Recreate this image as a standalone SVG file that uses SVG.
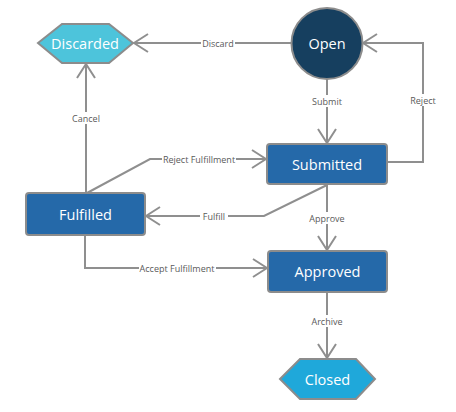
<svg xmlns="http://www.w3.org/2000/svg" width="456" height="412" viewBox="0 0 456 412">
<defs>
<marker id="arr" viewBox="0 0 16 20" refX="15" refY="10" markerWidth="16" markerHeight="20" markerUnits="userSpaceOnUse" orient="auto">
<path d="M1,1 L15,10 L1,19" fill="none" stroke="#8f8f8f" stroke-width="2"/>
</marker>
<style>
.e{fill:none;stroke:#8f8f8f;stroke-width:2}
.lb{fill:#fff}
.lt{font-family:"Open Sans","Noto Sans",sans-serif;font-size:9px;fill:#5a5a5a;text-anchor:middle;dominant-baseline:central}
.nt{font-family:"Open Sans","Noto Sans",sans-serif;font-size:14.5px;fill:#fff;text-anchor:middle;dominant-baseline:central}
.ns{stroke:#8c8c8c;stroke-width:2}
.blue{fill:#2569a9}
</style>
</defs>
<rect width="456" height="412" fill="#fff"/>
<g id="connectors">
<path class="e" d="M291,43 L134,43" marker-end="url(#arr)"/>
<path class="e" d="M327,79 L327,143" marker-end="url(#arr)"/>
<path class="e" d="M387,162 L423,162 L423,43 L363,43" marker-end="url(#arr)"/>
<path class="e" d="M86,193 L86,64" marker-end="url(#arr)"/>
<path class="e" d="M87,193 L150,159 L266,159" marker-end="url(#arr)"/>
<path class="e" d="M327,185 L264,216 L146,216" marker-end="url(#arr)"/>
<path class="e" d="M327,185 L327,250" marker-end="url(#arr)"/>
<path class="e" d="M85,235 L85,268 L267,268" marker-end="url(#arr)"/>
<path class="e" d="M327,292 L327,358" marker-end="url(#arr)"/>
<rect class="lb" x="201" y="37" width="34" height="12"/><text class="lt" x="218" y="43">Discard</text>
<rect class="lb" x="311" y="95" width="32" height="12"/><text class="lt" x="327" y="101">Submit</text>
<rect class="lb" x="409" y="94" width="29" height="12"/><text class="lt" x="423" y="100">Reject</text>
<rect class="lb" x="71" y="112" width="31" height="12"/><text class="lt" x="86" y="118">Cancel</text>
<rect class="lb" x="162" y="153" width="74" height="12"/><text class="lt" x="199" y="159">Reject Fulfillment</text>
<rect class="lb" x="200" y="210" width="28" height="12"/><text class="lt" x="214" y="216">Fulfill</text>
<rect class="lb" x="308" y="212" width="38" height="12"/><text class="lt" x="327" y="218">Approve</text>
<rect class="lb" x="139" y="262" width="77" height="12"/><text class="lt" x="177" y="268">Accept Fulfillment</text>
<rect class="lb" x="309" y="315" width="36" height="12"/><text class="lt" x="327" y="321">Archive</text>
</g>
<g id="discarded">
<polygon class="ns" points="38,43 62,24 109,24 133,43 109,63 62,63" fill="#4dc4db"/>
<text class="nt" x="85" y="43">Discarded</text>
</g>
<g id="open">
<circle class="ns" cx="327" cy="43.5" r="35.5" fill="#163f5f"/>
<text class="nt" x="327" y="43.5">Open</text>
</g>
<g id="submitted">
<rect class="ns blue" x="267" y="144" width="120" height="40" rx="3"/>
<text class="nt" x="327" y="164">Submitted</text>
</g>
<g id="fulfilled">
<rect class="ns blue" x="26" y="193" width="119" height="42" rx="3"/>
<text class="nt" x="85.5" y="214">Fulfilled</text>
</g>
<g id="approved">
<rect class="ns blue" x="268" y="251" width="119" height="41" rx="3"/>
<text class="nt" x="327.5" y="271.5">Approved</text>
</g>
<g id="closed">
<polygon class="ns" points="280,379 300,359 356,359 375,379 356,399 300,399" fill="#1fa8da"/>
<text class="nt" x="327.5" y="379">Closed</text>
</g>
</svg>
